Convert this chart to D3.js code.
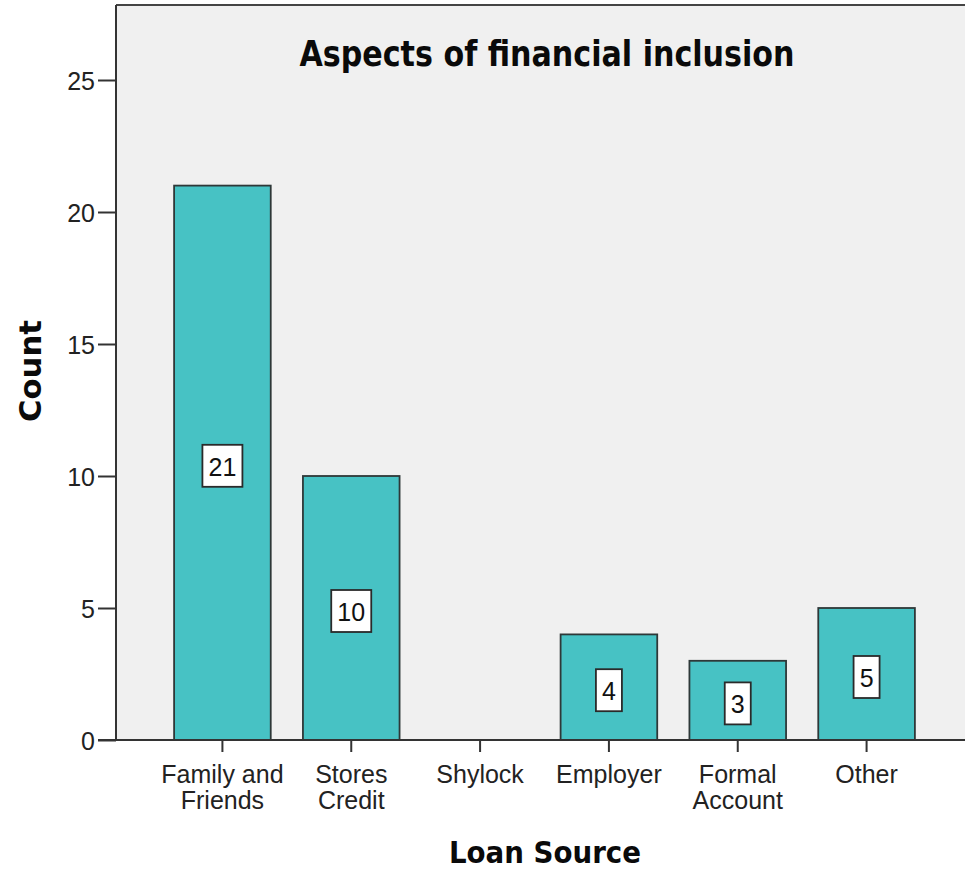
<!DOCTYPE html>
<html>
<head>
<meta charset="utf-8">
<script src="https://cdn.jsdelivr.net/npm/d3@7"></script>
<style>
  html, body { margin: 0; padding: 0; background: #ffffff; }
  svg { display: block; }
</style>
</head>
<body>
<svg id="chart" width="965" height="869"></svg>
<script>
// Loan source counts
const categories = ["Family and Friends", "Stores Credit", "Shylock", "Employer", "Formal Account", "Other"];
const categoryLines = [["Family and", "Friends"], ["Stores", "Credit"], ["Shylock"], ["Employer"], ["Formal", "Account"], ["Other"]];
const counts = [21, 10, 0, 4, 3, 5];
const yTicks = [0, 5, 10, 15, 20, 25];

const svg = d3.select("#chart");
const plot = { left: 116, top: 5, right: 965, bottom: 740 };
const sans = "Liberation Sans, Arial, sans-serif";
const bold = "DejaVu Sans, sans-serif";

const x = d3.scaleBand()
  .domain(categories)
  .range([158, 931])
  .paddingInner(0.25)
  .paddingOuter(0.125);

const y = d3.scaleLinear()
  .domain([0, 25])
  .range([plot.bottom, 80]);

// plot background
svg.append("rect")
  .attr("x", plot.left).attr("y", plot.top)
  .attr("width", plot.right - plot.left).attr("height", plot.bottom - plot.top)
  .attr("fill", "#f0f0f0");

// frame top edge
svg.append("line")
  .attr("x1", plot.left).attr("x2", plot.right)
  .attr("y1", plot.top).attr("y2", plot.top)
  .attr("stroke", "#444").attr("stroke-width", 2);

const rows = categories.map((c, i) => ({ c, v: counts[i] })).filter(d => d.v > 0);

// bars
svg.append("g").selectAll("rect")
  .data(rows)
  .join("rect")
  .attr("x", d => x(d.c))
  .attr("y", d => y(d.v))
  .attr("width", x.bandwidth())
  .attr("height", d => y(0) - y(d.v))
  .attr("fill", "#47c2c4")
  .attr("stroke", "#2e3838")
  .attr("stroke-width", 1.8);

// value labels in boxes at the middle of each bar
const labelG = svg.append("g").selectAll("g")
  .data(rows)
  .join("g")
  .attr("transform", d => `translate(${x(d.c) + x.bandwidth() / 2},${(y(d.v) + y(0)) / 2 + 3})`);

labelG.append("rect")
  .attr("x", d => -(String(d.v).length * 14 + 12) / 2)
  .attr("y", -21)
  .attr("width", d => String(d.v).length * 14 + 12)
  .attr("height", 42)
  .attr("fill", "#ffffff")
  .attr("stroke", "#2a2a2a")
  .attr("stroke-width", 1.8);

labelG.append("text")
  .attr("text-anchor", "middle")
  .attr("y", 10)
  .attr("font-family", sans)
  .attr("font-size", 25)
  .attr("fill", "#111")
  .text(d => d.v);

// y axis
const yAxis = svg.append("g")
  .attr("transform", `translate(${plot.left},0)`)
  .call(d3.axisLeft(y).tickValues(yTicks).tickSize(18).tickPadding(3).tickFormat(d3.format("d")));
yAxis.select(".domain").attr("d", `M0,${plot.top}V${plot.bottom}`).attr("stroke", "#333").attr("stroke-width", 2);
yAxis.selectAll(".tick line").attr("stroke", "#333").attr("stroke-width", 2);
yAxis.selectAll(".tick text")
  .attr("font-family", sans)
  .attr("font-size", 25)
  .attr("dy", "0.36em")
  .attr("fill", "#222");

// x axis
const xAxis = svg.append("g")
  .attr("transform", `translate(0,${plot.bottom})`)
  .call(d3.axisBottom(x).tickSize(12).tickFormat(""));
xAxis.select(".domain").attr("d", `M${plot.left - 18},0H${plot.right}`).attr("stroke", "#333").attr("stroke-width", 2);
xAxis.selectAll(".tick line").attr("stroke", "#333").attr("stroke-width", 2);

xAxis.selectAll(".tick").each(function (d, i) {
  const t = d3.select(this).append("text")
    .attr("text-anchor", "middle")
    .attr("font-family", sans)
    .attr("font-size", 25)
    .attr("fill", "#222");
  categoryLines[i].forEach((line, k) => {
    t.append("tspan").attr("x", 0).attr("y", 43 + k * 26).text(line);
  });
});

// title
svg.append("text")
  .attr("x", 547).attr("y", 66)
  .attr("text-anchor", "middle")
  .attr("font-family", bold)
  .attr("font-weight", "bold")
  .attr("font-size", 35)
  .attr("textLength", 495)
  .attr("lengthAdjust", "spacingAndGlyphs")
  .attr("fill", "#0a0a0a")
  .text("Aspects of financial inclusion");

// axis titles
svg.append("text")
  .attr("x", 545).attr("y", 863)
  .attr("text-anchor", "middle")
  .attr("font-family", bold)
  .attr("font-weight", "bold")
  .attr("font-size", 31)
  .attr("textLength", 192)
  .attr("lengthAdjust", "spacingAndGlyphs")
  .attr("fill", "#0a0a0a")
  .text("Loan Source");

svg.append("text")
  .attr("transform", "translate(41,371) rotate(-90)")
  .attr("text-anchor", "middle")
  .attr("font-family", bold)
  .attr("font-weight", "bold")
  .attr("font-size", 31)
  .attr("textLength", 102)
  .attr("lengthAdjust", "spacingAndGlyphs")
  .attr("fill", "#0a0a0a")
  .text("Count");
</script>
</body>
</html>
